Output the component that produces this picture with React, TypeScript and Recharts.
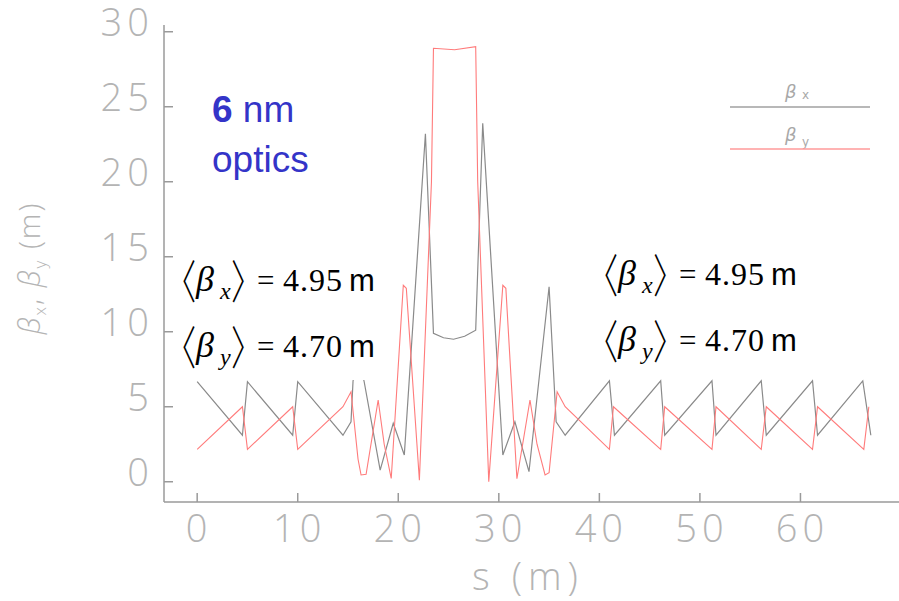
import { LineChart, Line, XAxis, YAxis } from 'recharts'

// lattice position s (m) and beta functions
const S_X = [0, 4.5, 5.0, 9.5, 10.0, 14.5, 15.3, 15.5, 16.0, 16.6, 18.2, 19.5, 20.6, 22.7, 23.5, 24.5, 25.5, 26.6, 27.7, 28.4, 30.4, 31.6, 33.0, 35.0, 35.7, 36.6, 41.0, 41.5, 46.1, 46.5, 51.2, 51.6, 56.1, 56.6, 61.2, 61.7, 66.2, 67.0]
const BETA_X = [6.67, 3.1, 6.67, 3.1, 6.67, 3.1, 4.0, 6.7, 8.5, 6.7, 0.78, 3.9, 1.78, 23.2, 9.9, 9.6, 9.5, 9.7, 10.1, 23.9, 1.78, 4.0, 0.67, 13.0, 4.0, 3.1, 6.73, 3.1, 6.73, 3.1, 6.73, 3.1, 6.73, 3.1, 6.73, 3.1, 6.73, 3.1]

const S_Y = [0, 4.5, 5.0, 9.5, 10.0, 14.5, 15.3, 16.0, 16.3, 16.8, 18.0, 18.6, 19.3, 20.5, 20.8, 22.1, 23.3, 23.5, 25.6, 27.7, 27.9, 29.0, 30.4, 30.7, 31.8, 33.1, 33.8, 34.6, 35.0, 35.8, 36.6, 41.0, 41.4, 46.1, 46.5, 51.2, 51.6, 56.1, 56.6, 61.2, 61.7, 66.3, 66.8]
const BETA_Y = [2.16, 5.0, 2.16, 5.0, 2.16, 5.0, 6.0, 1.5, 0.45, 0.5, 5.45, 2.5, 0.22, 13.1, 12.9, 0.1, 20.0, 28.9, 28.8, 29.0, 20.0, 0.0, 13.1, 12.9, 0.2, 5.45, 2.5, 0.45, 0.6, 6.0, 5.0, 2.16, 5.0, 2.16, 5.0, 2.16, 5.0, 2.16, 5.0, 2.16, 5.0, 2.16, 5.0]

const X_TICKS = [0, 10, 20, 30, 40, 50, 60]
const Y_TICKS = [0, 5, 10, 15, 20, 25, 30]
const X_DOMAIN = [-3.3, 70]
const Y_DOMAIN = [-1.35, 30.45]

const AXIS_GRAY = '#9a9a9a'
const LABEL_GRAY = '#b4b4b4'
const TICK_FONT = '"Open Sans", "DejaVu Sans", sans-serif'
const BRACKET_FONT = '"Noto Sans CJK JP", "DejaVu Sans", sans-serif'

const betaXData = S_X.map((s, i) => ({ s, b: BETA_X[i] }))
const betaYData = S_Y.map((s, i) => ({ s, b: BETA_Y[i] }))

const LeftTick = ({ x, y, payload }: any) => (
  <g>
    <line x1={x} x2={x + 9} y1={y} y2={y} stroke={AXIS_GRAY} strokeWidth={1.5} />
    <text x={x - 10} y={y + 4} textAnchor="end" fill={LABEL_GRAY} fontFamily={TICK_FONT}
      fontWeight={300} fontSize={38} letterSpacing={5}>
      {payload.value}
    </text>
  </g>
)

const BottomTick = ({ x, y, payload }: any) => (
  <g>
    <line x1={x} x2={x} y1={y} y2={y - 9} stroke={AXIS_GRAY} strokeWidth={1.5} />
    <text x={x + 2} y={y + 40} textAnchor="middle" fill={LABEL_GRAY} fontFamily={TICK_FONT}
      fontWeight={300} fontSize={38} letterSpacing={5}>
      {payload.value}
    </text>
  </g>
)

const TopTick = ({ x, y }: any) => (
  <line x1={x} x2={x} y1={y} y2={y + 9} stroke={AXIS_GRAY} strokeWidth={1.5} />
)

const RightTick = ({ x, y }: any) => (
  <line x1={x} x2={x - 9} y1={y} y2={y} stroke={AXIS_GRAY} strokeWidth={1.5} />
)

function MeanBeta({ x, y, sub, value }: { x: number; y: number; sub: string; value: string }) {
  return (
    <g fill="#000">
      <g transform={`translate(${x - 17},${y + 7}) scale(0.7,1)`}>
        <text x={0} y={0} fontFamily={BRACKET_FONT} fontWeight={300} fontSize={46}>〈</text>
      </g>
      <text x={x + 15} y={y} fontFamily="Liberation Serif" fontStyle="italic" fontSize={36}>β</text>
      <text x={x + 39} y={y + 8} fontFamily="Liberation Serif" fontStyle="italic" fontSize={24}>{sub}</text>
      <g transform={`translate(${x + 50},${y + 7}) scale(0.7,1)`}>
        <text x={0} y={0} fontFamily={BRACKET_FONT} fontWeight={300} fontSize={46}>〉</text>
      </g>
      <text x={x + 76} y={y} fontFamily="Liberation Serif" fontSize={31}>=</text>
      <text x={x + 102} y={y} fontFamily="Liberation Serif" fontSize={32} letterSpacing={1}>{value}</text>
      <text x={x + 168} y={y} fontFamily="Liberation Sans" fontSize={31}>m</text>
    </g>
  )
}

export default function App() {
  return (
    <div style={{ position: 'relative', width: 899, height: 601, background: '#fff' }}>
      <style>{'body{margin:0}'}</style>
      <LineChart width={899} height={601} data={betaXData}
        margin={{ top: 25, right: -2, bottom: 0, left: 0 }}>
        <XAxis dataKey="s" type="number" domain={X_DOMAIN} ticks={X_TICKS} allowDataOverflow
          height={99} tickSize={0} tickMargin={0} tickLine={false}
          axisLine={{ stroke: AXIS_GRAY, strokeWidth: 1.5 }} tick={<BottomTick />} interval={0} />
        <XAxis xAxisId="top" orientation="top" dataKey="s" type="number" domain={X_DOMAIN}
          ticks={X_TICKS} allowDataOverflow height={0} tickSize={0} tickMargin={0} tickLine={false}
          axisLine={{ stroke: AXIS_GRAY, strokeWidth: 1.5 }} tick={<TopTick />} interval={0} />
        <YAxis type="number" domain={Y_DOMAIN} ticks={Y_TICKS} allowDataOverflow width={164}
          tickSize={0} tickMargin={0} tickLine={false}
          axisLine={{ stroke: AXIS_GRAY, strokeWidth: 1.5 }} tick={<LeftTick />} interval={0} />
        <YAxis yAxisId="right" orientation="right" type="number" domain={Y_DOMAIN} ticks={Y_TICKS}
          allowDataOverflow width={0} tickSize={0} tickMargin={0} tickLine={false}
          axisLine={{ stroke: AXIS_GRAY, strokeWidth: 1.5 }} tick={<RightTick />} interval={0} />
        <Line data={betaXData} dataKey="b" type="linear" stroke="#8a8a8a" strokeWidth={1.2}
          dot={false} isAnimationActive={false} />
        <Line data={betaYData} dataKey="b" type="linear" stroke="#ff7b7b" strokeWidth={1.1}
          dot={false} isAnimationActive={false} />
      </LineChart>

      <svg width={899} height={601} style={{ position: 'absolute', left: 0, top: 0, pointerEvents: 'none' }}>
        {/* white box behind the left averages, as in the slide */}
        <rect x={176} y={250} width={212} height={130} fill="#fff" />
        <MeanBeta x={181} y={291} sub="x" value="4.95" />
        <MeanBeta x={181} y={357} sub="y" value="4.70" />
        <MeanBeta x={603} y={285} sub="x" value="4.95" />
        <MeanBeta x={603} y={351} sub="y" value="4.70" />

        <text x={212} y={122} fill="#3434c8" fontFamily="Liberation Sans" fontSize={37}>
          <tspan fontWeight="bold">6</tspan> nm
        </text>
        <text x={212} y={172} fill="#3434c8" fontFamily="Liberation Sans" fontSize={37}>optics</text>

        {/* legend */}
        <text x={785} y={98} fill="#a8a8a8" fontFamily="DejaVu Sans" fontStyle="italic" fontSize={18}>β</text>
        <text x={802} y={99} fill="#a8a8a8" fontFamily="DejaVu Sans" fontSize={12}>x</text>
        <line x1={730} x2={870} y1={107} y2={107} stroke="#a0a0a0" strokeWidth={1.5} />
        <text x={785} y={141} fill="#a8a8a8" fontFamily="DejaVu Sans" fontStyle="italic" fontSize={18}>β</text>
        <text x={802} y={146} fill="#a8a8a8" fontFamily="DejaVu Sans" fontSize={12}>y</text>
        <line x1={730} x2={870} y1={149} y2={149} stroke="#ff9a9a" strokeWidth={1.5} />

        {/* axis titles */}
        <text x={528} y={590} textAnchor="middle" fill={LABEL_GRAY} fontFamily={TICK_FONT} fontWeight={300}
          fontSize={38} letterSpacing={6}>s (m)</text>
        <text transform="translate(40,268) rotate(-90)" textAnchor="middle" fill={LABEL_GRAY}
          fontFamily={TICK_FONT} fontWeight={300} fontSize={29} letterSpacing={2}>
          <tspan fontStyle="italic">β</tspan><tspan fontSize={17} dy={6}>x</tspan>
          <tspan dy={-6}>, </tspan><tspan fontStyle="italic">β</tspan><tspan fontSize={17} dy={6}>y</tspan>
          <tspan dy={-6}> (m)</tspan>
        </text>
      </svg>
    </div>
  )
}
